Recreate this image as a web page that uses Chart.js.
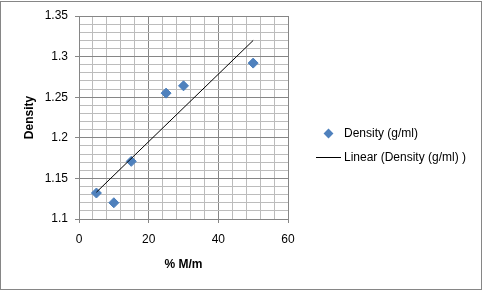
<!DOCTYPE html>
<html>
<head>
<meta charset="utf-8">
<script src="https://cdn.jsdelivr.net/npm/chart.js@4/dist/chart.umd.min.js"></script>
<style>
    html, body { margin: 0; padding: 0; background: #fff; }
    #wrap { position: relative; width: 483px; height: 291px; font-family: "Liberation Sans", Arial, sans-serif; font-size: 12px; color: #000; }
    #frame { position: absolute; left: 0; top: 1px; width: 480px; height: 287px; border: 1px solid #868686; pointer-events: none; }
    .lg-text { position: absolute; left: 344px; line-height: 14px; white-space: nowrap; }
    .lg-diamond { position: absolute; left: 325px; top: 130px; width: 7px; height: 7px; background: #4f81bd; transform: rotate(45deg); }
    .lg-line { position: absolute; left: 316px; top: 157px; width: 25px; height: 1px; background: #000; }
</style>
</head>
<body>
<div id="wrap">
    <canvas id="density-chart" width="483" height="291"></canvas>
    <div id="frame"></div>
    <div class="lg-diamond"></div>
    <div class="lg-text" style="top:126px;">Density (g/ml)</div>
    <div class="lg-line"></div>
    <div class="lg-text" style="top:150px;">Linear (Density (g/ml) )</div>
</div>
<script>
    // values
    var concentration = [5, 10, 15, 25, 30, 50];
    var density = [1.132, 1.120, 1.171, 1.255, 1.264, 1.292];

    var seriesLabel = 'Density (g/ml)';
    var trendLabel = 'Linear (Density (g/ml) )';
    var xTitle = '% M/m';
    var yTitle = 'Density';

    var points = [];
    for (var i = 0; i < concentration.length; i++) {
        points.push({ x: concentration[i], y: density[i] });
    }

    // least squares trendline, like Excel's linear trendline
    function linearFit(xs, ys) {
        var n = xs.length, sx = 0, sy = 0, sxy = 0, sxx = 0;
        for (var i = 0; i < n; i++) {
            sx += xs[i]; sy += ys[i];
            sxy += xs[i] * ys[i]; sxx += xs[i] * xs[i];
        }
        var slope = (n * sxy - sx * sy) / (n * sxx - sx * sx);
        return { slope: slope, intercept: (sy - slope * sx) / n };
    }

    var fit = linearFit(concentration, density);
    var xFirst = Math.min.apply(null, concentration);
    var xLast = Math.max.apply(null, concentration);
    var trend = [
        { x: xFirst, y: fit.intercept + fit.slope * xFirst },
        { x: xLast, y: fit.intercept + fit.slope * xLast }
    ];

    var MAJOR = '#868686';
    var MINOR = '#bcbcbc';
    var font = { family: '"Liberation Sans", Arial, sans-serif', size: 12 };

    new Chart(document.getElementById('density-chart'), {
        type: 'scatter',
        data: {
            datasets: [{
                label: trendLabel,
                data: trend,
                showLine: true,
                borderColor: '#000',
                borderWidth: 1,
                pointRadius: 0,
                fill: false
            }, {
                label: seriesLabel,
                data: points,
                pointStyle: 'rectRot',
                pointRadius: 5,
                backgroundColor: '#4f81bd',
                borderColor: '#4a7ebb',
                borderWidth: 1
            }]
        },
        options: {
            responsive: false,
            animation: false,
            layout: { padding: { left: 18, top: 16, right: 195, bottom: 15 } },
            plugins: {
                legend: { display: false },
                tooltip: { enabled: false }
            },
            scales: {
                x: {
                    type: 'linear',
                    min: 0,
                    max: 60,
                    afterFit: function(scale) { scale.height = 57; },
                    border: { color: MAJOR },
                    grid: {
                        tickLength: 4,
                        color: function(ctx) { return ctx.tick && ctx.tick.value % 20 === 0 ? MAJOR : MINOR; },
                        tickColor: function(ctx) { return ctx.tick && ctx.tick.value % 20 === 0 ? MAJOR : 'rgba(0,0,0,0)'; }
                    },
                    ticks: {
                        stepSize: 4,
                        autoSkip: false,
                        maxRotation: 0,
                        padding: 9,
                        color: '#000',
                        font: font,
                        callback: function(v) { return v % 20 === 0 ? String(v) : ''; }
                    },
                    title: { display: true, text: xTitle, color: '#000', font: { family: font.family, size: 12, weight: 'bold' } }
                },
                y: {
                    type: 'linear',
                    min: 1.1,
                    max: 1.35,
                    afterFit: function(scale) { scale.width = 61; },
                    border: { color: MAJOR },
                    grid: {
                        tickLength: 4,
                        color: function(ctx) {
                            return ctx.tick && Math.round(ctx.tick.value * 100) % 5 === 0 ? MAJOR : MINOR;
                        },
                        tickColor: function(ctx) {
                            return ctx.tick && Math.round(ctx.tick.value * 100) % 5 === 0 ? MAJOR : 'rgba(0,0,0,0)';
                        }
                    },
                    ticks: {
                        stepSize: 0.01,
                        autoSkip: false,
                        padding: 7,
                        color: '#000',
                        font: font,
                        callback: function(v) {
                            var n = Math.round(v * 100);
                            return n % 5 === 0 ? String(n / 100) : '';
                        }
                    },
                    title: { display: true, text: yTitle, color: '#000', font: { family: font.family, size: 12, weight: 'bold' } }
                }
            }
        }
    });
</script>
</body>
</html>
